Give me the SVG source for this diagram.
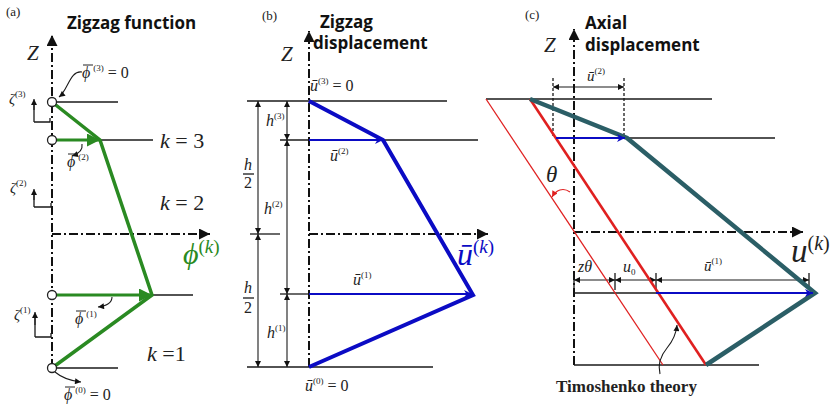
<svg xmlns="http://www.w3.org/2000/svg" width="834" height="409" viewBox="0 0 834 409">
<style>
.ax{stroke:#111;stroke-width:2;stroke-dasharray:9 3 2 3;fill:none}
.ln{stroke:#1a1a1a;stroke-width:1.3;fill:none}
.bar{stroke:#222;stroke-width:1;fill:none}
.dim{stroke:#1a1a1a;stroke-width:1.1;fill:none;marker-start:url(#da);marker-end:url(#da)}
.cur{stroke:#1a1a1a;stroke-width:1.1;fill:none;marker-end:url(#ca)}
.m{font-family:"Liberation Serif",serif;fill:#222}
.i{font-style:italic}
.s{font-size:9px}
.t{font-family:"Open Sans",sans-serif;font-weight:bold;font-size:17px;fill:#111}
.p{font-family:"Liberation Serif",serif;font-size:13px;fill:#222}
.g{stroke:#2a8a22;fill:none}
.b{stroke:#0b0bc4;fill:none}
</style>
<defs>
<marker id="aa" viewBox="0 0 10 10" refX="10" refY="5" markerWidth="12" markerHeight="11" markerUnits="userSpaceOnUse" orient="auto"><path d="M0,0 L10,5 L0,10 z" fill="#111"/></marker>
<marker id="da" viewBox="0 0 10 10" refX="10" refY="5" markerWidth="7" markerHeight="6" markerUnits="userSpaceOnUse" orient="auto-start-reverse"><path d="M0,0 L10,5 L0,10 z" fill="#111"/></marker>
<marker id="ca" viewBox="0 0 10 10" refX="10" refY="5" markerWidth="7" markerHeight="6" markerUnits="userSpaceOnUse" orient="auto"><path d="M0,0 L10,5 L0,10 z" fill="#111"/></marker>
<marker id="ra" viewBox="0 0 10 10" refX="10" refY="5" markerWidth="7" markerHeight="6" markerUnits="userSpaceOnUse" orient="auto"><path d="M0,0 L10,5 L0,10 z" fill="#e02020"/></marker>
<marker id="ga" viewBox="0 0 10 10" refX="10" refY="5" markerWidth="16" markerHeight="13" markerUnits="userSpaceOnUse" orient="auto"><path d="M0,0 L10,5 L0,10 z" fill="#2a8a22"/></marker>
<marker id="ba" viewBox="0 0 10 10" refX="10" refY="5" markerWidth="11" markerHeight="8" markerUnits="userSpaceOnUse" orient="auto"><path d="M0,0 L10,5 L0,10 L3,5 z" fill="#0b0bc4"/></marker>
</defs>

<g id="panel-a">
<text class="p" x="6" y="16">(a)</text>
<text class="t" x="67" y="29">Zigzag function</text>
<text class="m i" x="27" y="60" font-size="21">Z</text>
<g id="a-axes">
<line class="ax" x1="52" y1="368" x2="52" y2="35" marker-end="url(#aa)"/>
<line class="ax" x1="52" y1="234" x2="210" y2="234" marker-end="url(#aa)"/>
</g>
<g id="a-layers">
<line class="ln" x1="56" y1="102" x2="118" y2="102"/>
<line class="ln" x1="56" y1="140" x2="153" y2="140"/>
<line class="ln" x1="56" y1="295" x2="193" y2="295"/>
<line class="ln" x1="56" y1="368" x2="118" y2="368"/>
</g>
<g id="a-zigzag">
<polyline class="g" stroke-width="3.5" points="52,102 100,140 152,295 52,368"/>
<line class="g" stroke-width="3" x1="56" y1="140" x2="100" y2="140" marker-end="url(#ga)"/>
<line class="g" stroke-width="3" x1="56" y1="295" x2="152" y2="295" marker-end="url(#ga)"/>
</g>
<g id="a-nodes" fill="#fff" stroke="#222" stroke-width="1.3">
<circle cx="52" cy="102" r="4.5"/>
<circle cx="52" cy="140" r="4.5"/>
<circle cx="52" cy="295" r="4.5"/>
<circle cx="52" cy="368" r="4.5"/>
</g>
<g id="a-zeta" class="ln" stroke-width="1.1">
<path d="M34,122 L34,104 M34,122 L50,122 L50,118"/>
<path d="M34,207 L34,193 M34,207 L51,207 L51,203"/>
<path d="M35,337 L35,316 M35,337 L51,337 L51,333"/>
</g>
<g id="a-zeta-arrows" class="cur">
<path d="M34,110 L34,99"/>
<path d="M34,200 L34,189"/>
<path d="M35,325 L35,312"/>
</g>
<g id="a-notes" class="cur">
<path d="M82,72 C70,70 68,90 59,97"/>
<path d="M82,144 C83,150 78,154 72,156"/>
<path d="M112,297 C112,303 106,306 98,307"/>
<path d="M55,372 C62,378 72,381 81,382"/>
</g>
<text class="m i" x="9" y="104" font-size="15">ζ<tspan class="s" font-style="normal" dy="-7">(3)</tspan></text>
<text class="m i" x="10" y="193" font-size="15">ζ<tspan class="s" font-style="normal" dy="-7">(2)</tspan></text>
<text class="m i" x="14" y="320" font-size="15">ζ<tspan class="s" font-style="normal" dy="-7">(1)</tspan></text>
<g id="a-phibars" class="bar">
<line x1="83" y1="65" x2="93" y2="65"/>
<line x1="68" y1="154" x2="78" y2="154"/>
<line x1="76" y1="311" x2="86" y2="311"/>
<line x1="65" y1="387" x2="75" y2="387"/>
</g>
<text class="m i" x="82" y="78" font-size="16">ϕ<tspan class="s" font-style="normal" dx="3" dy="-7">(3)</tspan><tspan font-style="normal" dy="7"> = 0</tspan></text>
<text class="m i" x="67" y="167" font-size="16">ϕ<tspan class="s" font-style="normal" dx="3" dy="-7">(2)</tspan></text>
<text class="m i" x="75" y="324" font-size="16">ϕ<tspan class="s" font-style="normal" dx="3" dy="-7">(1)</tspan></text>
<text class="m i" x="64" y="400" font-size="16">ϕ<tspan class="s" font-style="normal" dx="3" dy="-7">(0)</tspan><tspan font-style="normal" dy="7"> = 0</tspan></text>
<text class="m i" x="160" y="148" font-size="22">k<tspan font-style="normal"> = 3</tspan></text>
<text class="m i" x="160" y="210" font-size="22">k<tspan font-style="normal"> = 2</tspan></text>
<text class="m i" x="147" y="361" font-size="22">k<tspan font-style="normal"> =1</tspan></text>
<text class="m i" x="183" y="264" font-size="30" style="fill:#2a8a22">ϕ<tspan font-size="19" dy="-11" font-style="normal">(</tspan><tspan font-size="19">k</tspan><tspan font-size="19" font-style="normal">)</tspan></text>
</g>

<g id="panel-b">
<text class="p" x="262" y="20">(b)</text>
<text class="t" x="320" y="28">Zigzag</text>
<text class="t" x="313" y="49">displacement</text>
<text class="m i" x="281" y="61" font-size="21">Z</text>
<g id="b-axes">
<line class="ax" x1="309" y1="367" x2="309" y2="31" marker-end="url(#aa)"/>
<line class="ax" x1="309" y1="234" x2="488" y2="234" marker-end="url(#aa)"/>
</g>
<g id="b-layers">
<line class="ln" x1="247" y1="101" x2="447" y2="101"/>
<line class="ln" x1="280" y1="140" x2="478" y2="140"/>
<line class="ln" x1="250" y1="234" x2="280" y2="234"/>
<line class="ln" x1="280" y1="294" x2="309" y2="294"/>
<line class="ln" x1="247" y1="367" x2="433" y2="367"/>
</g>
<g id="b-dims">
<line class="dim" x1="258" y1="101" x2="258" y2="234"/>
<line class="dim" x1="258" y1="234" x2="258" y2="367"/>
<line class="dim" x1="287" y1="101" x2="287" y2="140"/>
<line class="dim" x1="287" y1="140" x2="287" y2="294"/>
<line class="dim" x1="287" y1="294" x2="287" y2="367"/>
</g>
<g id="b-zigzag">
<polyline class="b" stroke-width="4" points="309,101 383,140 473,295 309,367"/>
<line class="b" stroke-width="2" x1="309" y1="140" x2="383" y2="140" marker-end="url(#ba)"/>
<line class="b" stroke-width="2" x1="309" y1="294" x2="472" y2="294" marker-end="url(#ba)"/>
</g>
<text class="m i" x="310" y="91" font-size="16">ū<tspan class="s" font-style="normal" dy="-7">(3)</tspan><tspan font-style="normal" dy="7"> = 0</tspan></text>
<text class="m i" x="266" y="126" font-size="16">h<tspan class="s" font-style="normal" dy="-7">(3)</tspan></text>
<text class="m i" x="264" y="214" font-size="16">h<tspan class="s" font-style="normal" dy="-7">(2)</tspan></text>
<text class="m i" x="267" y="338" font-size="16">h<tspan class="s" font-style="normal" dy="-7">(1)</tspan></text>
<text class="m i" x="244" y="170" font-size="16">h</text>
<line class="ln" stroke-width="1" x1="243" y1="174" x2="254" y2="174"/>
<text class="m" x="244" y="188" font-size="16">2</text>
<text class="m i" x="244" y="293" font-size="16">h</text>
<line class="ln" stroke-width="1" x1="243" y1="298" x2="254" y2="298"/>
<text class="m" x="244" y="313" font-size="16">2</text>
<text class="m i" x="330" y="161" font-size="16">ū<tspan class="s" font-style="normal" dy="-7">(2)</tspan></text>
<text class="m i" x="353" y="285" font-size="16">ū<tspan class="s" font-style="normal" dy="-7">(1)</tspan></text>
<text class="m i" x="305" y="391" font-size="16">ū<tspan class="s" font-style="normal" dy="-7">(0)</tspan><tspan font-style="normal" dy="7"> = 0</tspan></text>
<text class="m i" x="457" y="265" font-size="32" style="fill:#0b0bc4">ū<tspan font-size="19" dy="-12" font-style="normal">(</tspan><tspan font-size="19">k</tspan><tspan font-size="19" font-style="normal">)</tspan></text>
</g>

<g id="panel-c">
<text class="p" x="525" y="19">(c)</text>
<text class="t" x="585" y="29">Axial</text>
<text class="t" x="585" y="51">displacement</text>
<text class="m i" x="544" y="52" font-size="21">Z</text>
<g id="c-axes">
<line class="ax" x1="574" y1="365" x2="574" y2="29" marker-end="url(#aa)"/>
<line class="ax" x1="574" y1="232" x2="803" y2="232" marker-end="url(#aa)"/>
</g>
<g id="c-layers">
<line class="ln" x1="486" y1="99" x2="712" y2="99"/>
<line class="ln" x1="627" y1="138" x2="775" y2="138"/>
<line class="ln" x1="574" y1="365" x2="759" y2="365"/>
<line class="ln" stroke="#555" x1="574" y1="293" x2="656" y2="293"/>
<line class="ln" stroke-width="1" stroke-dasharray="3 2" x1="553" y1="78" x2="553" y2="137"/>
<line class="ln" stroke-width="1" stroke-dasharray="3 2" x1="624" y1="78" x2="624" y2="137"/>
</g>
<g id="c-dims">
<line class="dim" x1="553" y1="87" x2="624" y2="87"/>
<line class="dim" x1="574" y1="280" x2="615" y2="280"/>
<line class="dim" x1="615" y1="280" x2="656" y2="280"/>
<line class="dim" x1="656" y1="280" x2="809" y2="280"/>
<path class="ln" stroke-width="1" d="M574,273 V290 M615,273 V290 M656,273 V290 M809,273 V290"/>
</g>
<g id="c-timoshenko">
<line stroke="#e02020" stroke-width="1.3" x1="486" y1="99" x2="663" y2="365"/>
<line stroke="#e02020" stroke-width="2.6" x1="530" y1="99" x2="706" y2="365"/>
<path d="M570,192 C563,187 556,190 552,197" stroke="#e02020" stroke-width="1.2" fill="none" marker-end="url(#ra)"/>
</g>
<g id="c-zigzag">
<polyline points="530,99 627,138 815,293 706,365" stroke="#2b5e66" stroke-width="4.5" fill="none"/>
<line class="b" stroke-width="2" x1="556" y1="138" x2="625" y2="138" marker-end="url(#ba)"/>
<line class="b" stroke-width="2" x1="656" y1="293" x2="813" y2="293" marker-end="url(#ba)"/>
</g>
<path class="cur" d="M660,374 C657,362 662,354 667,348 S676,336 677,325"/>
<text class="m i" x="587" y="81" font-size="15">ū<tspan class="s" font-style="normal" dy="-7">(2)</tspan></text>
<text class="m i" x="546" y="182" font-size="23">θ</text>
<text class="m i" x="578" y="272" font-size="16">zθ</text>
<text class="m i" x="623" y="272" font-size="16">u<tspan font-size="9" font-style="normal" dy="3">0</tspan></text>
<text class="m i" x="704" y="271" font-size="15">ū<tspan class="s" font-style="normal" dy="-7">(1)</tspan></text>
<text class="m i" x="791" y="262" font-size="33">u<tspan font-size="20" dy="-12" font-style="normal">(</tspan><tspan font-size="20">k</tspan><tspan font-size="20" font-style="normal">)</tspan></text>
<text class="m" x="556" y="392" font-size="17" font-weight="bold">Timoshenko theory</text>
</g>
</svg>
